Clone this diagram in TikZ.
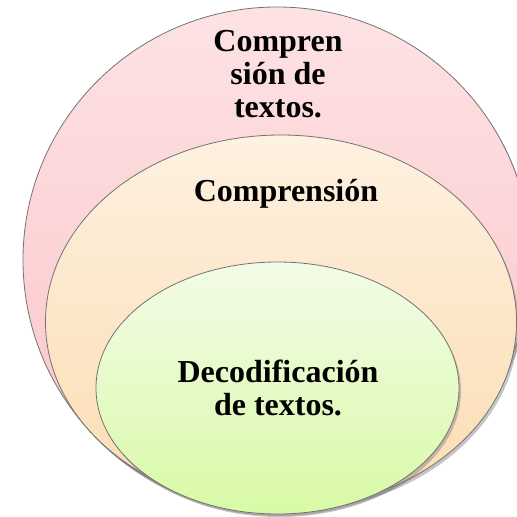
\documentclass[tikz,border=0pt]{standalone}
\usepackage{fontspec}
\setmainfont{Liberation Serif}
\usetikzlibrary{shapes.geometric,shadows}
\definecolor{pinktop}{RGB}{253,226,228}
\definecolor{pinkbot}{RGB}{251,196,199}
\definecolor{peachtop}{RGB}{253,241,224}
\definecolor{peachbot}{RGB}{251,220,178}
\definecolor{greentop}{RGB}{243,251,232}
\definecolor{greenbot}{RGB}{216,250,166}
\tikzset{
	layer/.style={ellipse, draw=black!55, line width=0.8pt, inner sep=0pt,
		drop shadow={shadow xshift=2pt, shadow yshift=-3pt, opacity=0.45}},
	label text/.style={text centered, align=center, font=\fontsize{32}{33}\selectfont\bfseries}
}
\begin{document}
\begin{tikzpicture}[x=1pt,y=-1pt]
		\useasboundingbox (0,0) rectangle (517,517);
		\clip (0,0) rectangle (517,517);
		
		%layers
		\node (Reading Comprehension) at (277,260) [layer, minimum width=508pt, minimum height=506pt,
		top color=pinktop, bottom color=pinkbot]{};
		\node (Comprehension) at (281,322) [layer, minimum width=471pt, minimum height=374pt,
		top color=peachtop, bottom color=peachbot]{};
		\node (Decoding) at (277.5,388) [layer, minimum width=363pt, minimum height=252pt,
		top color=greentop, bottom color=greenbot]{};
		
		%texts
		\node (Reading Comprehension Text) at (278,74) [label text]{Compren\\sión de\\textos.};
		\node (Comprehension Text) at (286,194) [label text]{Comprensión};
		\node (Decoding Text) at (278,388) [label text]{Decodificación\\de textos.};
		
\end{tikzpicture}
\end{document}
